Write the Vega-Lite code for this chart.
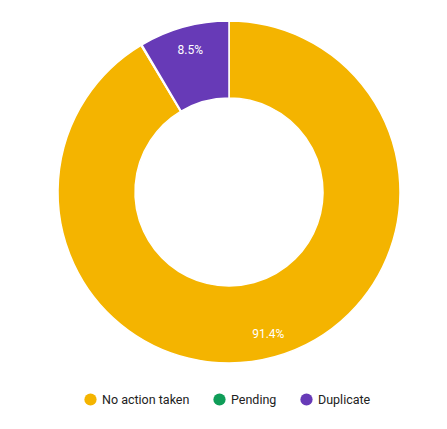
{
  "$schema": "https://vega.github.io/schema/vega-lite/v6.json",
  "width": 436,
  "height": 384,
  "autosize": "none",
  "padding": {"left": 11, "top": 0, "right": 0, "bottom": 45},
  "background": "white",
  "config": {"view": {"stroke": null}, "font": "Roboto"},
  "data": {
    "values": [
      {"status": "No action taken", "share": 0.914, "order": 1},
      {"status": "Pending", "share": 0.001, "order": 2},
      {"status": "Duplicate", "share": 0.085, "order": 3}
    ]
  },
  "encoding": {
    "theta": {"field": "share", "type": "quantitative", "stack": true},
    "order": {"field": "order", "type": "quantitative"},
    "color": {
      "field": "status",
      "type": "nominal",
      "scale": {
        "domain": ["No action taken", "Pending", "Duplicate"],
        "range": ["#F4B400", "#0F9D58", "#673AB7"]
      },
      "legend": {
        "orient": "none",
        "legendX": 73,
        "legendY": 393,
        "direction": "horizontal",
        "title": null,
        "symbolType": "circle",
        "symbolSize": 150,
        "symbolStrokeWidth": 0,
        "labelFont": "Roboto",
        "labelFontSize": 12.5,
        "labelColor": "#222222",
        "labelOffset": 5,
        "columnPadding": 23
      }
    }
  },
  "layer": [
    {
      "mark": {"type": "arc", "outerRadius": 171, "innerRadius": 94, "stroke": "white", "strokeWidth": 1.5}
    },
    {
      "mark": {"type": "text", "radius": 147, "fill": "white", "font": "Roboto", "fontSize": 12},
      "encoding": {
        "text": {
          "condition": {"test": "datum.share < 0.01", "value": ""},
          "field": "share",
          "type": "quantitative",
          "format": ".1%"
        },
        "color": {"value": "white"}
      }
    }
  ]
}
